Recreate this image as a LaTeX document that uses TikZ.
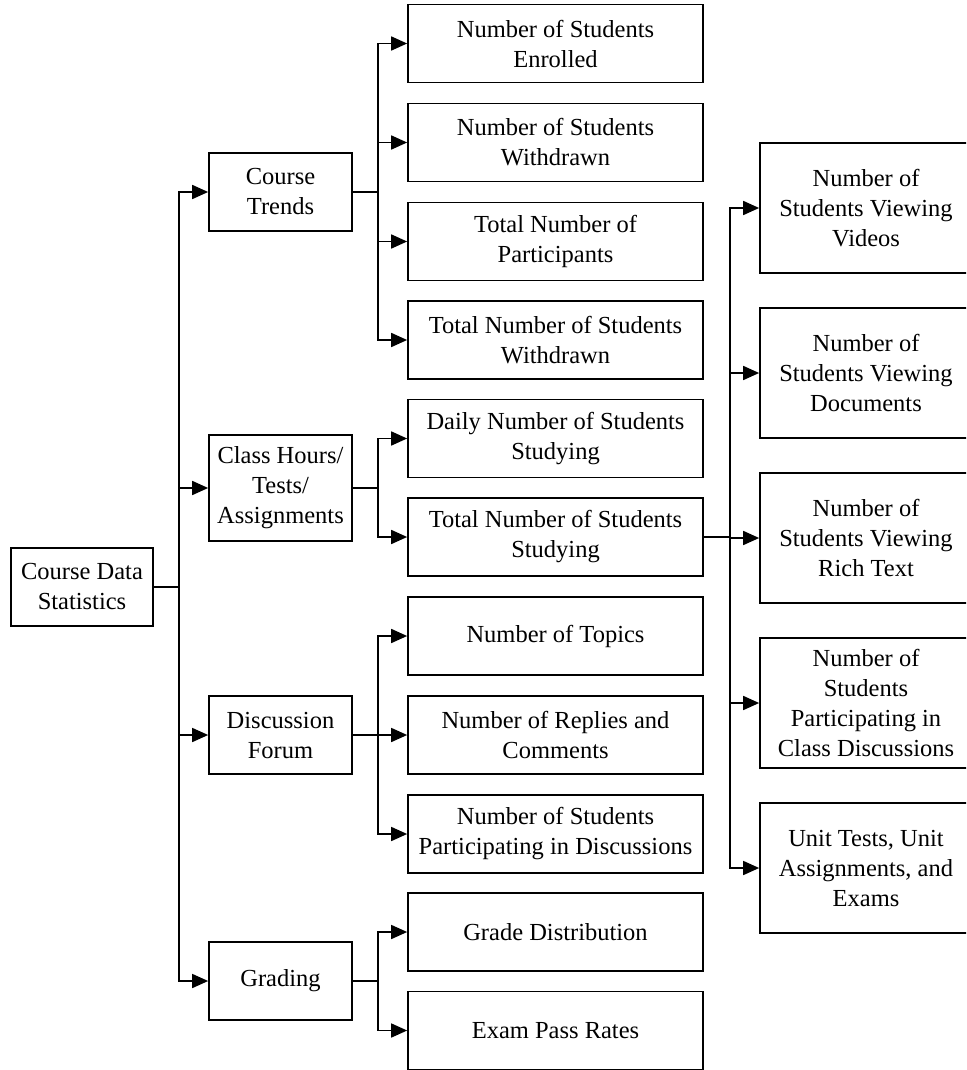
\documentclass[tikz,border=0pt]{standalone}
\usepackage{fontspec}
\setmainfont{Liberation Serif}
\usetikzlibrary{arrows.meta}
\begin{document}
\begin{tikzpicture}[x=1pt,y=-1pt,
  box/.style={draw,line width=1.7pt,align=center,inner sep=0pt,
    font=\fontsize{24.5}{30}\selectfont},
  rootbox/.style={box,minimum width=142pt,minimum height=78pt},
  lvlone/.style={box,minimum width=143pt,minimum height=78pt},
  lvltwo/.style={box,minimum width=295pt,minimum height=78pt},
  lvlthree/.style={box,minimum width=212pt,minimum height=130pt},
  link/.style={line width=1.7pt},
  arrowlink/.style={link,-{Triangle[length=16pt,width=14pt]}}]
\clip (0,0) rectangle (966,1070);
\fill[white] (0,0) rectangle (966,1070);

% root
\node[rootbox] (root) at (82,587) {Course Data\\Statistics};

% first level
\node[lvlone] (trends) at (280.5,192) {Course\\Trends};
\node[lvlone,minimum height=106pt] (hours) at (280.5,488) {Class Hours/\\Tests/\\Assignments};
\node[lvlone] (forum) at (280.5,735) {Discussion\\Forum};
\node[lvlone] (grading) at (280.5,981) {Grading};

% second level
\node[lvltwo] (enrolled) at (555.5,43.5) {Number of Students\\Enrolled};
\node[lvltwo] (withdrawn) at (555.5,142.5) {Number of Students\\Withdrawn};
\node[lvltwo] (participants) at (555.5,241.5) {Total Number of\\Participants};
\node[lvltwo] (totwithdrawn) at (555.5,340) {Total Number of Students\\Withdrawn};
\node[lvltwo] (daily) at (555.5,438.5) {Daily Number of Students\\Studying};
\node[lvltwo] (totstudying) at (555.5,537) {Total Number of Students\\Studying};
\node[lvltwo] (topics) at (555.5,636) {Number of Topics};
\node[lvltwo] (replies) at (555.5,735) {Number of Replies and\\Comments};
\node[lvltwo] (discuss) at (555.5,834) {Number of Students\\Participating in Discussions};
\node[lvltwo] (grades) at (555.5,932) {Grade Distribution};
\node[lvltwo] (passrates) at (555.5,1030.5) {Exam Pass Rates};

% third level
\node[lvlthree] (videos) at (866,208) {Number of\\Students Viewing\\Videos};
\node[lvlthree] (docs) at (866,373) {Number of\\Students Viewing\\Documents};
\node[lvlthree] (richtext) at (866,538) {Number of\\Students Viewing\\Rich Text};
\node[lvlthree] (classdisc) at (866,703) {Number of\\Students\\Participating in\\Class Discussions};
\node[lvlthree] (unittests) at (866,868) {Unit Tests, Unit\\Assignments, and\\Exams};

% branch columns
\coordinate (bone) at (179,0);
\coordinate (btwo) at (378,0);
\coordinate (bthree) at (730,0);

% connectors
\foreach \c in {trends,hours,forum,grading}
  \draw[arrowlink] (root.east) -- (root.east -| bone) |- (\c.west);
\foreach \c in {enrolled,withdrawn,participants,totwithdrawn}
  \draw[arrowlink] (trends.east) -- (trends.east -| btwo) |- (\c.west);
\foreach \c in {daily,totstudying}
  \draw[arrowlink] (hours.east) -- (hours.east -| btwo) |- (\c.west);
\foreach \c in {topics,replies,discuss}
  \draw[arrowlink] (forum.east) -- (forum.east -| btwo) |- (\c.west);
\foreach \c in {grades,passrates}
  \draw[arrowlink] (grading.east) -- (grading.east -| btwo) |- (\c.west);
\foreach \c in {videos,docs,richtext,classdisc,unittests}
  \draw[arrowlink] (totstudying.east) -- (totstudying.east -| bthree) |- (\c.west);
\end{tikzpicture}
\end{document}
